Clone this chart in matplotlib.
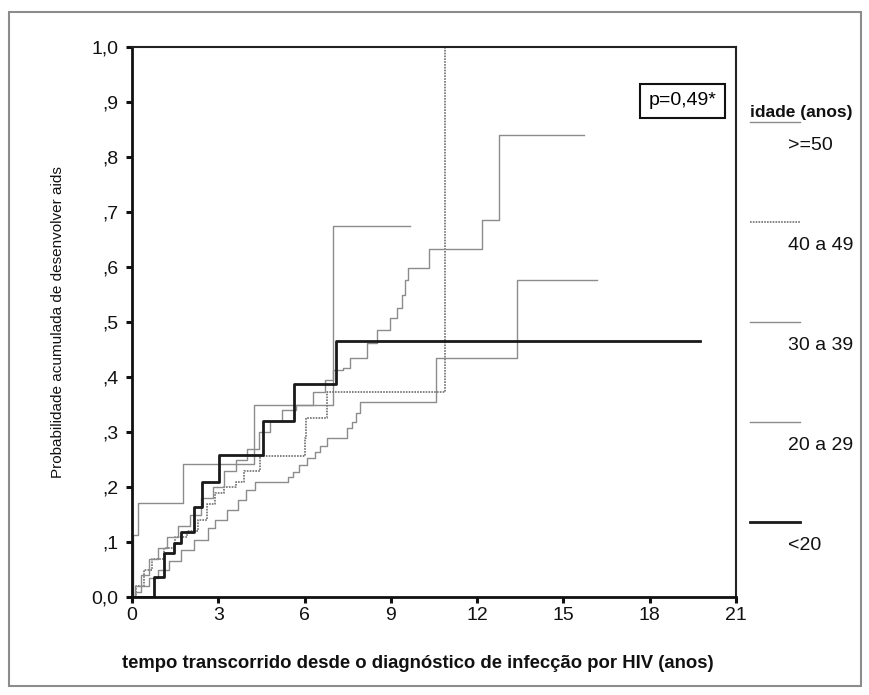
import matplotlib
matplotlib.use("Agg")
import matplotlib.pyplot as plt
from matplotlib.lines import Line2D
from matplotlib.patches import Rectangle

plt.rcParams["font.family"] = ["Liberation Sans", "DejaVu Sans"]

# Kaplan-Meier style cumulative probability, by age group
t_50 = [0, 0.05, 0.2, 1.77, 4.24, 7.0, 9.67]
p_50 = [0, 0.113, 0.171, 0.241, 0.35, 0.675, 0.675]

t_40 = [0, 0.15, 0.4, 0.7, 1.1, 1.5, 1.9, 2.3, 2.6, 2.9, 3.2, 3.6, 3.9, 4.44, 6.01, 6.05, 6.77, 10.87]
p_40 = [0, 0.02, 0.05, 0.07, 0.09, 0.11, 0.12, 0.14, 0.17, 0.19, 0.2, 0.21, 0.23, 0.256, 0.29, 0.325, 0.373, 1.0]

t_30 = [0, 0.1, 0.3, 0.6, 0.9, 1.2, 1.6, 2.0, 2.4, 2.8, 3.2, 3.6, 4.0, 4.4, 4.8, 5.2, 5.7, 6.3,
        6.7, 7.0, 7.34, 7.58, 8.16, 8.51, 8.97, 9.2, 9.38, 9.5, 9.58, 10.31, 12.17, 12.75, 15.7]
p_30 = [0, 0.02, 0.04, 0.07, 0.09, 0.11, 0.13, 0.15, 0.18, 0.2, 0.23, 0.25, 0.27, 0.3, 0.32, 0.34,
        0.349, 0.373, 0.395, 0.413, 0.416, 0.435, 0.461, 0.485, 0.507, 0.526, 0.549, 0.576, 0.598,
        0.632, 0.685, 0.84, 0.84]

t_20 = [0, 0.1, 0.3, 0.6, 0.9, 1.3, 1.7, 2.16, 2.63, 2.9, 3.32, 3.67, 3.98, 4.27, 5.43, 5.6, 5.8,
        6.07, 6.35, 6.55, 6.77, 7.46, 7.65, 7.8, 7.93, 10.57, 13.37, 16.16]
p_20 = [0, 0.01, 0.02, 0.035, 0.05, 0.065, 0.085, 0.104, 0.125, 0.14, 0.158, 0.176, 0.195, 0.21,
        0.219, 0.228, 0.24, 0.252, 0.263, 0.275, 0.289, 0.307, 0.318, 0.335, 0.355, 0.434, 0.576, 0.576]

t_lt20 = [0, 0.77, 1.12, 1.46, 1.7, 2.16, 2.45, 3.03, 4.56, 5.64, 7.11, 19.76]
p_lt20 = [0, 0.037, 0.08, 0.098, 0.119, 0.164, 0.21, 0.258, 0.32, 0.387, 0.465, 0.465]

groups = [">=50", "40 a 49", "30 a 39", "20 a 29", "<20"]
x_ticks = [0, 3, 6, 9, 12, 15, 18, 21]
y_ticks = [0.0, 0.1, 0.2, 0.3, 0.4, 0.5, 0.6, 0.7, 0.8, 0.9, 1.0]
y_ticklabels = ["0,0", ",1", ",2", ",3", ",4", ",5", ",6", ",7", ",8", ",9", "1,0"]

thin = dict(color="#8c8c8c", lw=1.0)
dotted = dict(color="#707070", lw=1.2, ls=(0, (1, 0.7)))
thick = dict(color="#1a1a1a", lw=2.0)
styles = [thin, dotted, thin, thin, thick]

W, H = 870, 695
fig = plt.figure(figsize=(W / 100, H / 100), dpi=100)
ax = fig.add_axes([132 / W, 1 - 597 / H, 604 / W, 550 / H])

series = [(t_50, p_50), (t_40, p_40), (t_30, p_30), (t_20, p_20), (t_lt20, p_lt20)]
for (t, p), st in zip(series, styles):
    ax.step(t, p, where="post", **st)

ax.set_xlim(0, 21)
ax.set_ylim(0, 1.0)
ax.set_xticks(x_ticks)
ax.set_xticklabels([str(v) for v in x_ticks])
ax.set_yticks(y_ticks)
ax.set_yticklabels(y_ticklabels)
ax.tick_params(axis="both", direction="out", length=4, width=2.2, labelsize=14, colors="#111111")
ax.tick_params(axis="y", pad=6)
ax.tick_params(axis="x", pad=3)
for side in ["left", "bottom"]:
    ax.spines[side].set_linewidth(2.0)
    ax.spines[side].set_color("#111111")
for side in ["top", "right"]:
    ax.spines[side].set_linewidth(1.5)
    ax.spines[side].set_color("#222222")

ax.text(0.911, 0.902, "p=0,49*", transform=ax.transAxes, fontsize=14, ha="center", va="center",
        bbox=dict(boxstyle="square,pad=0.45", fc="white", ec="#111111", lw=1.5))

fig.text(58 / W, 1 - 322 / H, "Probabilidade acumulada de desenvolver aids", rotation=90,
         fontsize=11, ha="center", va="center", color="#111111")
fig.text(418 / W, 1 - 663 / H, "tempo transcorrido desde o diagnóstico de infecção por HIV (anos)",
         fontsize=13.3, fontweight="bold", ha="center", va="center", color="#111111")

# legend drawn SPSS-style: sample line above each label
fig.text(750 / W, 1 - 113 / H, "idade (anos)", fontsize=12.5, fontweight="bold",
         ha="left", va="center", color="#111111")
for i, (name, st) in enumerate(zip(groups, styles)):
    yl = 1 - (121.7 + 100 * i) / H
    fig.add_artist(Line2D([750 / W, 800 / W], [yl, yl], transform=fig.transFigure, **st))
    fig.text(788 / W, 1 - (146 + 100 * i) / H, name, fontsize=14, ha="left", va="center",
             color="#111111")

fig.add_artist(Rectangle((9 / W, 1 - 686 / H), 852 / W, 674 / H, transform=fig.transFigure,
                         fill=False, ec="#8c8c8c", lw=1.5))

fig.savefig("out.png", dpi=100)
